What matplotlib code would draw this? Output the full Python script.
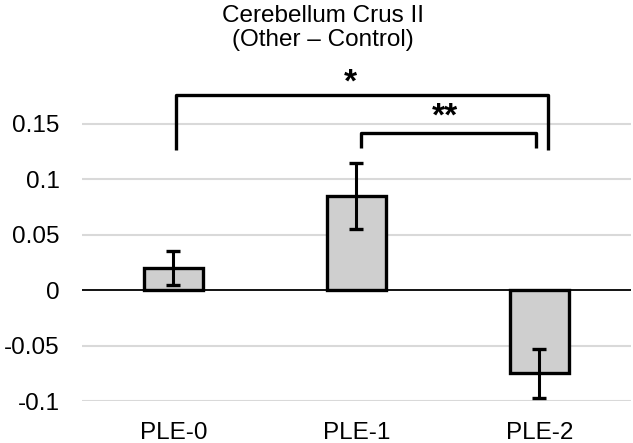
import matplotlib.pyplot as plt
import numpy as np

plt.rcParams['font.family'] = ['Liberation Sans', 'DejaVu Sans']

groups = ['PLE-0', 'PLE-1', 'PLE-2']
means = [0.02, 0.085, -0.075]
errors = [0.015, 0.03, 0.022]
yticks = [-0.1, -0.05, 0, 0.05, 0.1, 0.15]
ytick_labels = ['-0.1', '-0.05', '0', '0.05', '0.1', '0.15']

BAR_FILL = '#cfcfcf'
GRID = '#d9d9d9'
FS = 17.5

fig = plt.figure(figsize=(6.33, 4.43), dpi=100)
ax = fig.add_axes([82 / 633, 0.0948, 549 / 633, 0.751])

x = np.arange(len(groups))
ax.bar(x, means, width=0.32, color=BAR_FILL, edgecolor='black', linewidth=2.4, zorder=3)
ax.errorbar(x, means, yerr=errors, fmt='none', ecolor='black', elinewidth=2.2,
            capsize=5, capthick=2.4, zorder=4)

ax.set_xlim(-0.5, 2.5)
ax.set_ylim(-0.1, 0.2)
ax.set_yticks(yticks)
ax.set_yticklabels(ytick_labels, fontsize=FS)
ax.set_xticks(x)
ax.set_xticklabels(groups, fontsize=FS)
ax.tick_params(axis='y', length=0, pad=16)
ax.tick_params(axis='x', length=0, pad=15)
for s in ax.spines.values():
    s.set_visible(False)
for t in yticks:
    if t != 0:
        ax.axhline(t, color=GRID, lw=1.5, zorder=1)
ax.axhline(0, color='black', lw=1.3, zorder=2)

# significance brackets
ax.plot([0.014, 0.014, 2.044, 2.044], [0.126, 0.176, 0.176, 0.126], color='black',
        lw=2.4, solid_joinstyle='round', solid_capstyle='butt', clip_on=False, zorder=5)
ax.plot([1.022, 1.022, 1.98, 1.98], [0.128, 0.142, 0.142, 0.128], color='black',
        lw=2.4, solid_joinstyle='round', solid_capstyle='butt', clip_on=False, zorder=5)
ax.text(0.967, 0.187, '*', ha='center', va='center', fontsize=24, fontweight='bold')
ax.text(1.486, 0.156, '**', ha='center', va='center', fontsize=24, fontweight='bold')

fig.text(323 / 633, 1 - 28 / 443, 'Cerebellum Crus II\n(Other \u2013 Control)', ha='center',
         va='center', fontsize=FS, linespacing=1.15)

fig.savefig('out.png', dpi=100)
